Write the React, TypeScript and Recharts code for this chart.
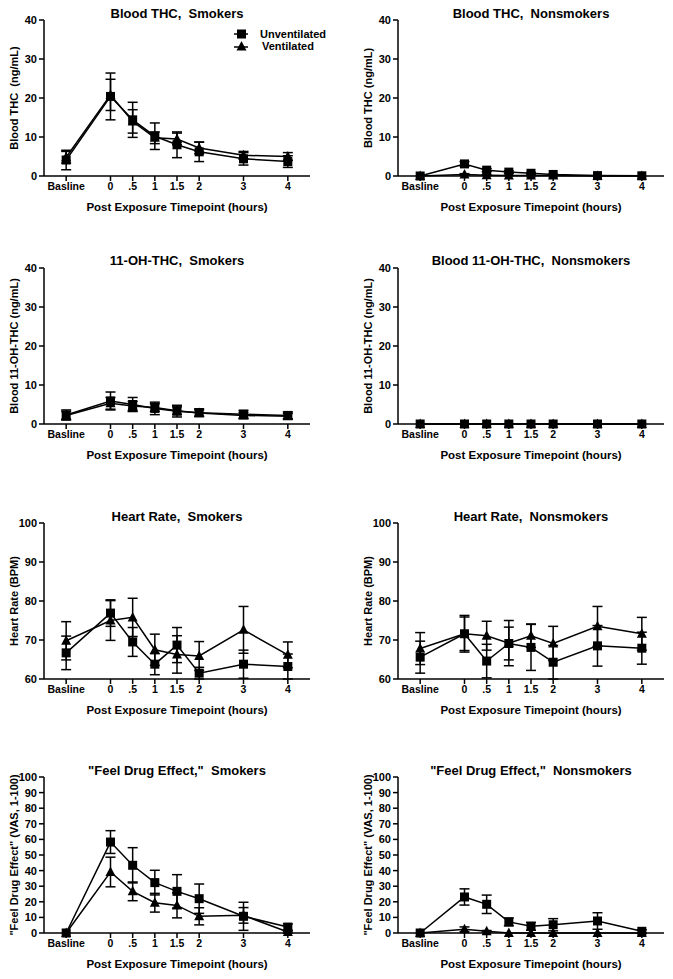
import { LineChart, Line, XAxis, YAxis, ErrorBar, Label } from "recharts";

const FONT = "Arial, 'Liberation Sans', Helvetica, sans-serif";

// x positions (hours after exposure), baseline sits one hour before 0
const hours = [-1, 0, 0.5, 1, 1.5, 2, 3, 4];
const hourLabels = ["Basline", "0", ".5", "1", "1.5", "2", "3", "4"];

// Blood THC, smokers (ng/mL)
const thcSmkUnvent = [4.1, 20.4, 14.4, 10.2, 8.0, 6.2, 4.4, 3.7];
const thcSmkUnventErr = [2.5, 6.0, 4.5, 3.4, 3.3, 2.5, 1.6, 1.5];
const thcSmkVent = [4.8, 20.8, 14.0, 9.8, 9.5, 7.2, 5.3, 5.0];
const thcSmkVentErr = [1.5, 4.0, 3.0, 1.5, 1.5, 1.5, 1.0, 1.0];

// Blood THC, nonsmokers
const thcNonUnvent = [0, 3.1, 1.5, 1.0, 0.7, 0.4, 0.1, 0.05];
const thcNonUnventErr = [0, 0.6, 0.4, 0.3, 0.2, 0.1, 0, 0];
const thcNonVent = [0, 0.4, 0.2, 0.1, 0.1, 0.1, 0, 0];
const thcNonVentErr = [0, 0.2, 0.1, 0, 0, 0, 0, 0];

// 11-OH-THC, smokers
const ohSmkUnvent = [2.3, 5.9, 5.0, 4.0, 3.3, 2.9, 2.5, 2.2];
const ohSmkUnventErr = [1.3, 2.3, 1.8, 1.6, 1.5, 1.0, 1.0, 0.9];
const ohSmkVent = [2.2, 5.3, 4.6, 4.2, 3.4, 2.8, 2.2, 2.0];
const ohSmkVentErr = [1.0, 1.5, 1.2, 1.0, 1.0, 0.8, 0.8, 0.7];

// 11-OH-THC, nonsmokers
const ohNonUnvent = [0, 0, 0, 0, 0, 0, 0, 0];
const ohNonUnventErr = [0, 0, 0, 0, 0, 0, 0, 0];
const ohNonVent = [0, 0, 0, 0, 0, 0, 0, 0];
const ohNonVentErr = [0, 0, 0, 0, 0, 0, 0, 0];

// Heart rate, smokers (BPM)
const hrSmkUnvent = [66.7, 76.9, 69.5, 63.8, 68.7, 61.5, 63.8, 63.2];
const hrSmkUnventErr = [4.3, 3.4, 3.7, 2.7, 4.5, 1.5, 3.6, 3.2];
const hrSmkVent = [69.8, 75.0, 75.8, 67.5, 66.3, 65.9, 72.6, 66.2];
const hrSmkVentErr = [4.9, 5.1, 4.9, 4.0, 4.8, 3.7, 6.0, 3.3];

// Heart rate, nonsmokers
const hrNonUnvent = [65.6, 71.6, 64.6, 69.1, 68.1, 64.3, 68.5, 67.9];
const hrNonUnventErr = [4.1, 4.7, 4.3, 4.2, 5.9, 4.3, 5.2, 4.1];
const hrNonVent = [67.8, 71.6, 71.1, 69.2, 71.1, 69.1, 73.5, 71.6];
const hrNonVentErr = [4.1, 4.3, 3.7, 5.8, 3.0, 4.4, 5.1, 4.2];

// "Feel drug effect" VAS, smokers
const vasSmkUnvent = [0, 58.3, 43.4, 32.3, 26.7, 22.0, 10.7, 3.8];
const vasSmkUnventErr = [0, 7.3, 11.3, 7.9, 10.7, 9.4, 9.0, 2.0];
const vasSmkVent = [0, 39.1, 26.7, 19.4, 17.7, 10.7, 11.3, 0.6];
const vasSmkVentErr = [0, 9.5, 6.0, 6.0, 8.0, 5.5, 5.0, 0.6];

// "Feel drug effect" VAS, nonsmokers
const vasNonUnvent = [0, 23.1, 18.4, 7.1, 4.3, 5.3, 7.7, 1.1];
const vasNonUnventErr = [0, 5.2, 5.9, 2.5, 2.5, 3.9, 5.3, 1.0];
const vasNonVent = [0, 2.4, 1.1, 0, 0, 0, 0, 0];
const vasNonVentErr = [0, 1.5, 0.5, 0, 0, 0, 0, 0];

const squareDot = (props: any) => {
  const { cx, cy, index } = props;
  if (cx == null || cy == null) return <g key={`s-${index}`} />;
  return <rect key={`s-${index}`} x={cx - 4.5} y={cy - 4.5} width={9} height={9} fill="#000" />;
};

const triangleDot = (props: any) => {
  const { cx, cy, index } = props;
  if (cx == null || cy == null) return <g key={`t-${index}`} />;
  return (
    <polygon
      key={`t-${index}`}
      points={`${cx},${cy - 5.5} ${cx - 5},${cy + 4} ${cx + 5},${cy + 4}`}
      fill="#000"
    />
  );
};

type PanelProps = {
  col: number;
  top: number;
  title: string;
  yLabel: string;
  yDomain: [number, number];
  yTicks: number[];
  unvent: number[];
  unventErr: number[];
  vent: number[];
  ventErr: number[];
  legend?: boolean;
};

function Panel(p: PanelProps) {
  const left = p.col === 0 ? 0 : 336;
  const width = p.col === 0 ? 336 : 337;
  const yw = p.col === 0 ? 44 : 62;
  const mr = p.col === 0 ? 26 : 9;
  const plotLeft = left + yw;
  const plotW = width - yw - mr;
  const plotTop = p.top + 20;

  const data = hours.map((h, i) => ({
    h,
    u: p.unvent[i],
    uErr: p.unventErr[i],
    v: p.vent[i],
    vErr: p.ventErr[i],
  }));

  const axisStyle = { stroke: "#000", strokeWidth: 1.5 };

  return (
    <>
      <div
        style={{
          position: "absolute",
          left: plotLeft,
          top: plotTop - 14.5,
          width: plotW,
          textAlign: "center",
          font: `bold 13px ${FONT}`,
          lineHeight: "15px",
          whiteSpace: "pre",
          color: "#000",
        }}
      >
        {p.title}
      </div>
      <div style={{ position: "absolute", left, top: p.top }}>
        <LineChart width={width} height={221} data={data} margin={{ top: 20, right: mr, bottom: 0, left: 0 }}>
          <XAxis
            dataKey="h"
            type="number"
            domain={[-1.5, 4.5]}
            ticks={hours}
            interval={0}
            tickFormatter={(v: number) => hourLabels[hours.indexOf(v)] ?? ""}
            height={45}
            tickSize={5}
            axisLine={axisStyle}
            tickLine={axisStyle}
            tick={{ fill: "#000", fontSize: 10.5, fontWeight: "bold", fontFamily: FONT }}
          >
            <Label
              content={(lp: any) => {
                const vb = lp.viewBox;
                return (
                  <text
                    x={vb.x + vb.width / 2}
                    y={vb.y + 35}
                    textAnchor="middle"
                    fontFamily={FONT}
                    fontWeight="bold"
                    fontSize={11.5}
                    fill="#000"
                  >
                    Post Exposure Timepoint (hours)
                  </text>
                );
              }}
            />
          </XAxis>
          <YAxis
            type="number"
            domain={p.yDomain}
            ticks={p.yTicks}
            interval={0}
            width={yw}
            tickSize={5}
            axisLine={axisStyle}
            tickLine={axisStyle}
            tick={{ fill: "#000", fontSize: 11, fontWeight: "bold", fontFamily: FONT }}
          >
            <Label
              content={(lp: any) => {
                const vb = lp.viewBox;
                const x = vb.x + vb.width - 30;
                const y = vb.y + vb.height / 2;
                return (
                  <text
                    x={x}
                    y={y}
                    transform={`rotate(-90 ${x} ${y})`}
                    textAnchor="middle"
                    dominantBaseline="central"
                    fontFamily={FONT}
                    fontWeight="bold"
                    fontSize={11}
                    fill="#000"
                    style={{ whiteSpace: "pre" }}
                  >
                    {p.yLabel}
                  </text>
                );
              }}
            />
          </YAxis>
          <Line
            dataKey="v"
            stroke="#000"
            strokeWidth={1.5}
            dot={triangleDot}
            activeDot={false}
            isAnimationActive={false}
          >
            <ErrorBar dataKey="vErr" direction="y" width={5} stroke="#000" strokeWidth={1.5} isAnimationActive={false} />
          </Line>
          <Line
            dataKey="u"
            stroke="#000"
            strokeWidth={1.5}
            dot={squareDot}
            activeDot={false}
            isAnimationActive={false}
          >
            <ErrorBar dataKey="uErr" direction="y" width={5} stroke="#000" strokeWidth={1.5} isAnimationActive={false} />
          </Line>
        </LineChart>
      </div>
      {p.legend && (
        <div style={{ position: "absolute", left: 232, top: p.top + 28, font: `bold 11px ${FONT}`, color: "#000" }}>
          <div style={{ display: "flex", alignItems: "center", height: 12 }}>
            <svg width={18} height={12}>
              <line x1={2} y1={6} x2={16} y2={6} stroke="#000" strokeWidth={1.5} />
              <rect x={5} y={1.5} width={9} height={9} fill="#000" />
            </svg>
            <span style={{ marginLeft: 10 }}>Unventilated</span>
          </div>
          <div style={{ display: "flex", alignItems: "center", height: 12 }}>
            <svg width={18} height={12}>
              <line x1={2} y1={7} x2={16} y2={7} stroke="#000" strokeWidth={1.5} />
              <polygon points="9.5,1 4.5,10.5 14.5,10.5" fill="#000" />
            </svg>
            <span style={{ marginLeft: 12 }}>Ventilated</span>
          </div>
        </div>
      )}
    </>
  );
}

export default function App() {
  const t40 = [0, 10, 20, 30, 40];
  const t100 = [60, 70, 80, 90, 100];
  const tVas = [0, 10, 20, 30, 40, 50, 60, 70, 80, 90, 100];
  return (
    <div style={{ position: "absolute", left: 0, top: 0, width: 673, height: 979, background: "#fff" }}>
      <Panel col={0} top={0} title="Blood THC,  Smokers" yLabel="Blood THC  (ng/mL)" yDomain={[0, 40]} yTicks={t40}
        unvent={thcSmkUnvent} unventErr={thcSmkUnventErr} vent={thcSmkVent} ventErr={thcSmkVentErr} legend />
      <Panel col={1} top={0} title="Blood THC,  Nonsmokers" yLabel="Blood THC (ng/mL)" yDomain={[0, 40]} yTicks={t40}
        unvent={thcNonUnvent} unventErr={thcNonUnventErr} vent={thcNonVent} ventErr={thcNonVentErr} />
      <Panel col={0} top={247.5} title="11-OH-THC,  Smokers" yLabel="Blood 11-OH-THC (ng/mL)" yDomain={[0, 40]} yTicks={t40}
        unvent={ohSmkUnvent} unventErr={ohSmkUnventErr} vent={ohSmkVent} ventErr={ohSmkVentErr} />
      <Panel col={1} top={247.5} title="Blood 11-OH-THC,  Nonsmokers" yLabel="Blood 11-OH-THC (ng/mL)" yDomain={[0, 40]} yTicks={t40}
        unvent={ohNonUnvent} unventErr={ohNonUnventErr} vent={ohNonVent} ventErr={ohNonVentErr} />
      <Panel col={0} top={503} title="Heart Rate,  Smokers" yLabel="Heart Rate (BPM)" yDomain={[60, 100]} yTicks={t100}
        unvent={hrSmkUnvent} unventErr={hrSmkUnventErr} vent={hrSmkVent} ventErr={hrSmkVentErr} />
      <Panel col={1} top={503} title="Heart Rate,  Nonsmokers" yLabel="Heart Rate (BPM)" yDomain={[60, 100]} yTicks={t100}
        unvent={hrNonUnvent} unventErr={hrNonUnventErr} vent={hrNonVent} ventErr={hrNonVentErr} />
      <Panel col={0} top={757} title={'"Feel Drug Effect,"  Smokers'} yLabel={'"Feel Drug Effect" (VAS, 1-100)'} yDomain={[0, 100]} yTicks={tVas}
        unvent={vasSmkUnvent} unventErr={vasSmkUnventErr} vent={vasSmkVent} ventErr={vasSmkVentErr} />
      <Panel col={1} top={757} title={'"Feel Drug Effect,"  Nonsmokers'} yLabel={'"Feel Drug Effect" (VAS, 1-100)'} yDomain={[0, 100]} yTicks={tVas}
        unvent={vasNonUnvent} unventErr={vasNonUnventErr} vent={vasNonVent} ventErr={vasNonVentErr} />
    </div>
  );
}
